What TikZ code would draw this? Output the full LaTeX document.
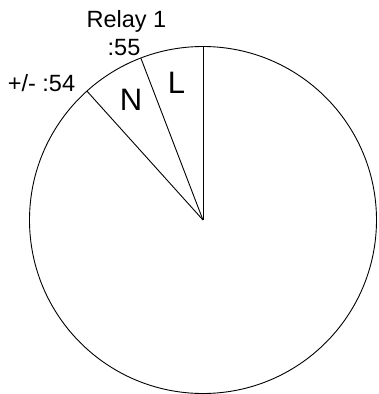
\documentclass[tikz,border=0pt]{standalone}
\usepackage{fontspec}
\setmainfont{Liberation Sans}
\usetikzlibrary{calc}
\begin{document}
\begin{tikzpicture}[x=1pt,y=-1pt,
  edge/.style={draw=black,line width=0.9pt},
  lbl/.style={anchor=base,inner sep=0pt,font=\fontsize{23.5}{26}\selectfont},
  big/.style={anchor=base,inner sep=0pt,font=\fontsize{31}{35}\selectfont}]
\useasboundingbox (0,0) rectangle (378,394);
\coordinate (c) at (203,220);
\draw[edge] (c) circle[radius=173.5];
\coordinate (pL) at ($(c)+(-90:173.5)$);
\coordinate (pN) at ($(c)+(-111:173.5)$);
\coordinate (pP) at ($(c)+(-132:173.5)$);
\draw[edge] (c) -- (pL);
\draw[edge] (c) -- (pN);
\draw[edge] (c) -- (pP);
\node[lbl] (relay) at (126.5,27) {Relay 1};
\node[lbl] (s55) at (124,55) {:55};
\node[lbl] (s54) at (41.5,91.5) {+/- :54};
\node[big] (n) at (131,110) {N};
\node[big] (l) at (176.5,93) {L};
\end{tikzpicture}
\end{document}
